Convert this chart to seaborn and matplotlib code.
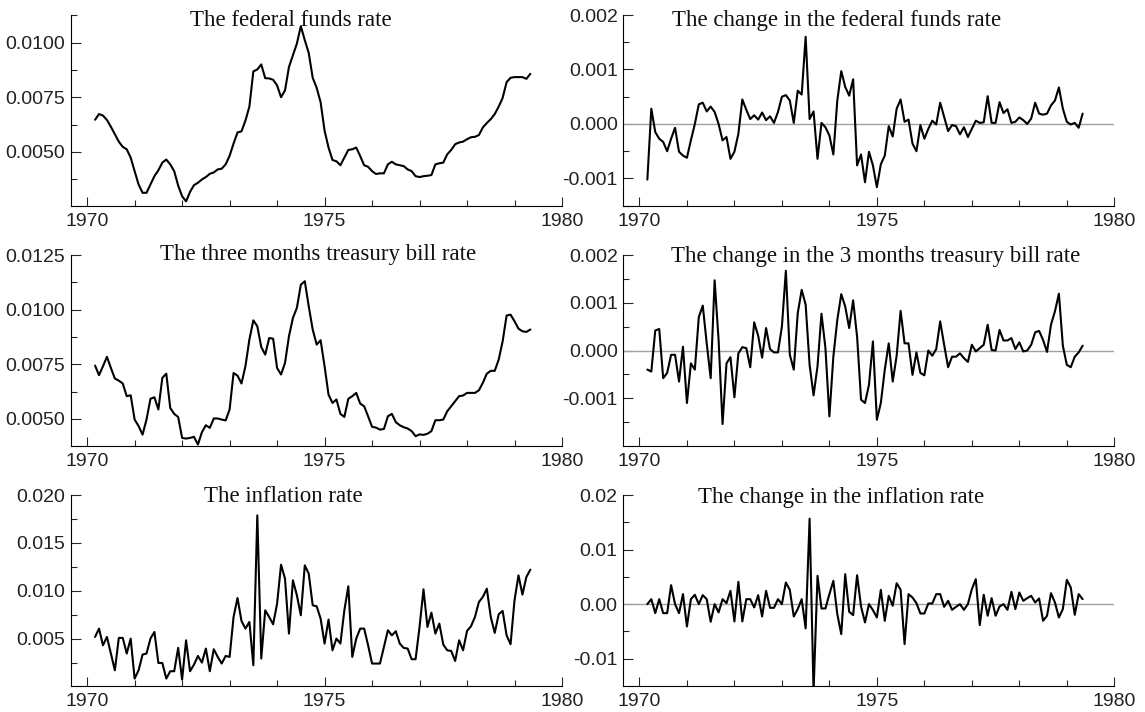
import numpy as np
import matplotlib
matplotlib.use("Agg")
import matplotlib.pyplot as plt
from matplotlib.ticker import FixedLocator, FormatStrFormatter
import seaborn as sns

# -----------------------------
# Data: monthly, Mar 1970 .. May 1979 (decimal years)
# -----------------------------
start_year = 1970 + 2 / 12
n_obs = 111
dates = start_year + np.arange(n_obs) / 12

fed_funds = [
    0.00647, 0.00673, 0.00666, 0.00646, 0.00615, 0.00581, 0.00547, 0.00523, 0.00512, 0.00474,
    0.00412, 0.00351, 0.00313, 0.00313, 0.00351, 0.00389, 0.00416, 0.00451, 0.00465, 0.00443,
    0.00412, 0.00346, 0.00297, 0.00274, 0.00317, 0.00348, 0.00359, 0.00374, 0.00385, 0.00400,
    0.00406, 0.00420, 0.00423, 0.00443, 0.00482, 0.00538, 0.00589, 0.00594, 0.00643, 0.00707,
    0.00868, 0.00877, 0.00900, 0.00837, 0.00836, 0.00830, 0.00804, 0.00750, 0.00781, 0.00888,
    0.00942, 0.00995, 0.01075, 0.01011, 0.00952, 0.00839, 0.00793, 0.00727, 0.00597, 0.00520,
    0.00463, 0.00457, 0.00439, 0.00474, 0.00509, 0.00512, 0.00520, 0.00481, 0.00439, 0.00432,
    0.00412, 0.00399, 0.00402, 0.00402, 0.00443, 0.00455, 0.00443, 0.00439, 0.00435, 0.00420,
    0.00412, 0.00389, 0.00385, 0.00389, 0.00391, 0.00394, 0.00443, 0.00448, 0.00451, 0.00489,
    0.00509, 0.00535, 0.00543, 0.00547, 0.00558, 0.00567, 0.00569, 0.00577, 0.00612, 0.00632,
    0.00650, 0.00673, 0.00707, 0.00747, 0.00819, 0.00839, 0.00842, 0.00842, 0.00842, 0.00834, 0.00857,
]

fed_funds_change = [
    -0.00102, 0.00028, -0.00015, -0.00027, -0.00033, -0.00050, -0.00027, -0.00007, -0.00051, -0.00058,
    -0.00062, -0.00030, 0.00000, 0.00036, 0.00039, 0.00023, 0.00032, 0.00022, 0.00000, -0.00030,
    -0.00024, -0.00064, -0.00051, -0.00018, 0.00045, 0.00026, 0.00009, 0.00016, 0.00008, 0.00021,
    0.00007, 0.00014, 0.00002, 0.00022, 0.00050, 0.00053, 0.00043, 0.00002, 0.00061, 0.00054,
    0.00160, 0.00009, 0.00023, -0.00064, 0.00002, -0.00006, -0.00021, -0.00056, 0.00043, 0.00097,
    0.00068, 0.00052, 0.00082, -0.00076, -0.00056, -0.00107, -0.00051, -0.00076, -0.00116, -0.00074,
    -0.00058, -0.00004, -0.00023, 0.00028, 0.00045, 0.00004, 0.00008, -0.00036, -0.00050, -0.00002,
    -0.00027, -0.00009, 0.00006, -0.00001, 0.00039, 0.00013, -0.00013, -0.00002, -0.00004, -0.00019,
    -0.00006, -0.00024, -0.00009, 0.00006, 0.00002, 0.00003, 0.00051, 0.00002, 0.00002, 0.00040,
    0.00020, 0.00027, 0.00002, 0.00004, 0.00012, 0.00007, 0.00000, 0.00010, 0.00039, 0.00019,
    0.00017, 0.00019, 0.00034, 0.00043, 0.00067, 0.00028, 0.00004, -0.00001, 0.00002, -0.00007, 0.00019,
]

tbill = [
    0.00744, 0.00700, 0.00741, 0.00784, 0.00733, 0.00685, 0.00675, 0.00662, 0.00604, 0.00608,
    0.00497, 0.00467, 0.00428, 0.00497, 0.00592, 0.00599, 0.00543, 0.00688, 0.00707, 0.00550,
    0.00523, 0.00509, 0.00413, 0.00410, 0.00413, 0.00418, 0.00383, 0.00439, 0.00471, 0.00459,
    0.00502, 0.00502, 0.00497, 0.00493, 0.00543, 0.00710, 0.00698, 0.00662, 0.00741, 0.00863,
    0.00951, 0.00924, 0.00829, 0.00794, 0.00870, 0.00867, 0.00733, 0.00703, 0.00756, 0.00878,
    0.00962, 0.01008, 0.01114, 0.01130, 0.01015, 0.00909, 0.00840, 0.00860, 0.00741, 0.00611,
    0.00573, 0.00589, 0.00523, 0.00509, 0.00592, 0.00604, 0.00619, 0.00570, 0.00558, 0.00512,
    0.00464, 0.00460, 0.00451, 0.00454, 0.00512, 0.00523, 0.00485, 0.00471, 0.00462, 0.00456,
    0.00444, 0.00421, 0.00429, 0.00427, 0.00432, 0.00444, 0.00494, 0.00494, 0.00497, 0.00535,
    0.00558, 0.00581, 0.00604, 0.00607, 0.00619, 0.00619, 0.00619, 0.00631, 0.00665, 0.00707,
    0.00720, 0.00720, 0.00771, 0.00855, 0.00973, 0.00977, 0.00947, 0.00913, 0.00901, 0.00898, 0.00909,
]

tbill_change = [
    -0.00040, -0.00044, 0.00042, 0.00045, -0.00058, -0.00047, -0.00009, -0.00009, -0.00065, 0.00008,
    -0.00110, -0.00027, -0.00040, 0.00070, 0.00094, 0.00015, -0.00058, 0.00147, 0.00022, -0.00154,
    -0.00027, -0.00014, -0.00098, -0.00006, 0.00007, 0.00005, -0.00035, 0.00059, 0.00031, -0.00015,
    0.00047, 0.00003, -0.00004, -0.00004, 0.00050, 0.00167, -0.00009, -0.00040, 0.00078, 0.00127,
    0.00096, -0.00030, -0.00094, -0.00033, 0.00077, 0.00005, -0.00138, -0.00013, 0.00064, 0.00118,
    0.00092, 0.00047, 0.00105, 0.00029, -0.00103, -0.00110, -0.00072, 0.00019, -0.00145, -0.00110,
    -0.00040, 0.00015, -0.00065, -0.00011, 0.00083, 0.00015, 0.00015, -0.00051, -0.00004, -0.00047,
    -0.00052, 0.00000, -0.00011, 0.00003, 0.00061, 0.00012, -0.00035, -0.00013, -0.00013, -0.00006,
    -0.00016, -0.00024, 0.00012, -0.00002, 0.00005, 0.00012, 0.00054, 0.00001, 0.00000, 0.00043,
    0.00021, 0.00021, 0.00026, 0.00003, 0.00017, -0.00002, 0.00000, 0.00012, 0.00038, 0.00041,
    0.00022, -0.00003, 0.00054, 0.00082, 0.00119, 0.00010, -0.00030, -0.00035, -0.00013, -0.00004, 0.00010,
]

inflation = [
    0.00521, 0.00608, 0.00434, 0.00521, 0.00348, 0.00174, 0.00511, 0.00511, 0.00348, 0.00504,
    0.00087, 0.00174, 0.00337, 0.00348, 0.00504, 0.00573, 0.00250, 0.00250, 0.00087, 0.00164,
    0.00164, 0.00407, 0.00077, 0.00486, 0.00164, 0.00233, 0.00323, 0.00254, 0.00400, 0.00164,
    0.00393, 0.00313, 0.00244, 0.00323, 0.00313, 0.00729, 0.00927, 0.00688, 0.00608, 0.00677,
    0.00226, 0.01788, 0.00296, 0.00799, 0.00729, 0.00653, 0.00868, 0.01274, 0.01128, 0.00556,
    0.01111, 0.00955, 0.00747, 0.01267, 0.01180, 0.00851, 0.00840, 0.00712, 0.00452, 0.00702,
    0.00382, 0.00504, 0.00452, 0.00799, 0.01049, 0.00313, 0.00504, 0.00608, 0.00608, 0.00434,
    0.00244, 0.00244, 0.00244, 0.00417, 0.00591, 0.00538, 0.00580, 0.00452, 0.00407, 0.00400,
    0.00289, 0.00289, 0.00625, 0.01017, 0.00625, 0.00774, 0.00556, 0.00660, 0.00441, 0.00382,
    0.00375, 0.00271, 0.00486, 0.00382, 0.00584, 0.00632, 0.00729, 0.00885, 0.00938, 0.01024,
    0.00729, 0.00563, 0.00757, 0.00792, 0.00538, 0.00445, 0.00903, 0.01163, 0.00962, 0.01146, 0.01222,
]

inflation_change = [
    0.00000, 0.00091, -0.00165, 0.00091, -0.00165, -0.00165, 0.00348, 0.00000, -0.00165, 0.00183,
    -0.00409, 0.00091, 0.00171, 0.00000, 0.00165, 0.00091, -0.00323, 0.00000, -0.00152, 0.00091,
    0.00018, 0.00244, -0.00317, 0.00409, -0.00317, 0.00091, 0.00091, -0.00061, 0.00165, -0.00226,
    0.00244, -0.00067, -0.00067, 0.00091, 0.00000, 0.00396, 0.00262, -0.00226, -0.00091, 0.00091,
    -0.00445, 0.01567, -0.01600, 0.00518, -0.00079, -0.00079, 0.00183, 0.00427, -0.00183, -0.00549,
    0.00549, -0.00140, -0.00201, 0.00530, -0.00043, -0.00335, 0.00000, -0.00110, -0.00244, 0.00262,
    -0.00305, 0.00152, -0.00030, 0.00384, 0.00262, -0.00732, 0.00183, 0.00122, 0.00018, -0.00171,
    -0.00171, 0.00012, 0.00012, 0.00183, 0.00183, -0.00049, 0.00061, -0.00104, -0.00049, 0.00000,
    -0.00104, 0.00000, 0.00274, 0.00457, -0.00384, 0.00171, -0.00213, 0.00110, -0.00213, -0.00043,
    0.00000, -0.00104, 0.00226, -0.00091, 0.00213, 0.00061, 0.00110, 0.00152, 0.00030, 0.00104,
    -0.00305, -0.00213, 0.00201, 0.00030, -0.00244, -0.00091, 0.00445, 0.00305, -0.00195, 0.00183, 0.00091,
]

titles = [
    "The federal funds rate",
    "The change in the federal funds rate",
    "The three months treasury bill rate",
    "The change in the 3 months treasury bill rate",
    "The inflation rate",
    "The change in the inflation rate",
]

# -----------------------------
# Style
# -----------------------------
sns.set_style("ticks")
plt.rcParams["font.family"] = ["Liberation Sans", "DejaVu Sans"]
plt.rcParams["axes.unicode_minus"] = False

fig = plt.figure(figsize=(11.45, 7.12), dpi=100)

W, H = 1145, 712
col_x = [71, 623.3]
col_w = 491
rows_px = [(15, 205.7), (255, 446), (495, 686)]

panels = [
    # series, ylim, majors, minors, fmt, zero line, title x, title y
    (fed_funds, (0.00254, 0.01126), [0.005, 0.0075, 0.01], [0.00375, 0.00625, 0.00875, 0.01125], "%.4f", False, 0.448, 0.942),
    (fed_funds_change, (-0.0015, 0.002), [-0.001, 0, 0.001, 0.002], [-0.0015, -0.0005, 0.0005, 0.0015], "%.3f", True, 0.434, 0.942),
    (tbill, (0.00376, 0.0125), [0.005, 0.0075, 0.01, 0.0125], [0.00625, 0.00875, 0.01125], "%.4f", False, 0.503, 0.972),
    (tbill_change, (-0.002, 0.002), [-0.001, 0, 0.001, 0.002], [-0.0015, -0.0005, 0.0005, 0.0015], "%.3f", True, 0.514, 0.965),
    (inflation, (0.0001, 0.02), [0.005, 0.01, 0.015, 0.02], [0.0025, 0.0075, 0.0125, 0.0175], "%.3f", False, 0.433, 0.965),
    (inflation_change, (-0.015, 0.02), [-0.01, 0, 0.01, 0.02], [-0.005, 0.005, 0.015], "%.2f", True, 0.444, 0.958),
]

for k, (values, ylim, majors, minors, fmt, zero, tx, ty) in enumerate(panels):
    r, c = divmod(k, 2)
    top, bot = rows_px[r]
    ax = fig.add_axes([col_x[c] / W, 1 - bot / H, col_w / W, (bot - top) / H])

    if zero:
        ax.axhline(0, color="#a0a0a0", lw=1.0, zorder=1)
    sns.lineplot(x=dates, y=values, ax=ax, color="black", linewidth=1.5, zorder=2)

    ax.set_xlim(1969.66, 1980)
    ax.set_ylim(*ylim)
    ax.xaxis.set_major_locator(FixedLocator([1970, 1975, 1980]))
    ax.xaxis.set_minor_locator(FixedLocator(range(1971, 1980)))
    ax.xaxis.set_major_formatter(FormatStrFormatter("%d"))
    ax.yaxis.set_major_locator(FixedLocator(majors))
    ax.yaxis.set_minor_locator(FixedLocator(minors))
    ax.yaxis.set_major_formatter(FormatStrFormatter(fmt))

    ax.tick_params(axis="both", which="major", direction="in", length=7, width=0.8,
                   labelsize=14, labelcolor="#222222", pad=4)
    ax.tick_params(axis="both", which="minor", direction="in", length=4.5, width=0.8)
    ax.tick_params(axis="x", which="major", length=6.5, pad=5)

    for side in ["top", "right"]:
        ax.spines[side].set_visible(False)
    for side in ["left", "bottom"]:
        ax.spines[side].set_color("black")
        ax.spines[side].set_linewidth(0.8)
    ax.set_xlabel("")
    ax.set_ylabel("")

    ax.text(tx, ty, titles[k], transform=ax.transAxes, ha="center", va="baseline",
            fontsize=16.5, family=["Liberation Serif", "DejaVu Serif"], color="#111111")

fig.savefig("out.png", dpi=100)
